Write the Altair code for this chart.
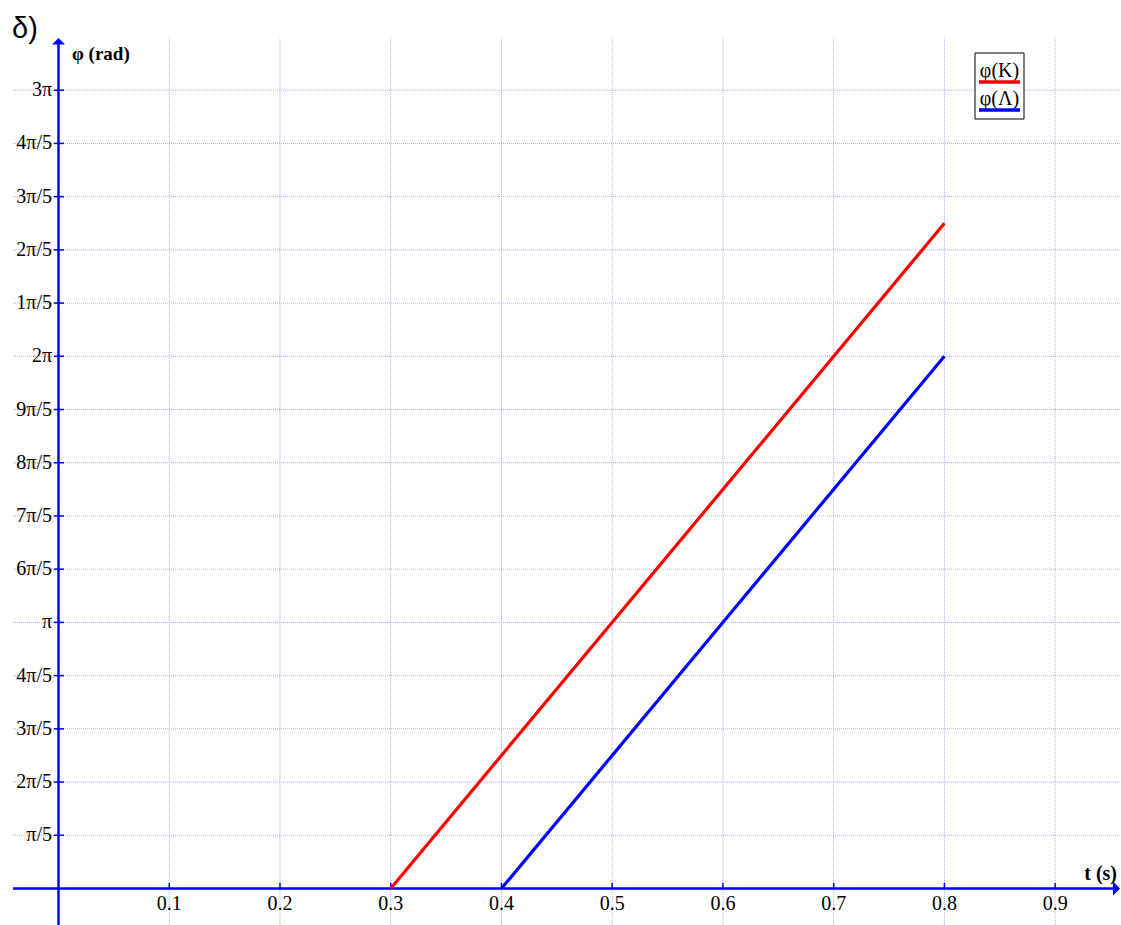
import altair as alt
import pandas as pd
import numpy as np

PI = np.pi

# ---- data ----
t_ticks = [0.1, 0.2, 0.3, 0.4, 0.5, 0.6, 0.7, 0.8, 0.9]
t_labels = ["0.1", "0.2", "0.3", "0.4", "0.5", "0.6", "0.7", "0.8", "0.9"]
phi_ticks_k = [1, 2, 3, 4, 5, 6, 7, 8, 9, 10, 11, 12, 13, 14, 15]  # multiples of π/5
phi_labels = ["π/5", "2π/5", "3π/5", "4π/5", "π", "6π/5", "7π/5", "8π/5", "9π/5",
              "2π", "1π/5", "2π/5", "3π/5", "4π/5", "3π"]
series_names = ["φ(K)", "φ(Λ)"]
series_colors = ["#ff0000", "#0000ff"]
t_K = [0.3, 0.8]
phi_K = [0.0, 2.5 * PI]
t_L = [0.4, 0.8]
phi_L = [0.0, 2.0 * PI]

# ---- layout (pixels) ----
W, H = 1121, 925
X0, XS = 58.5, 1107.4            # pixel of t=0, pixels per second
Y0, YS = 888.5, 53.22 / (PI / 5)  # pixel of phi=0, pixels per rad


def tx(px):
    return (px - X0) / XS


def ty(py):
    return (Y0 - py) / YS


xs = alt.Scale(domain=[tx(0), tx(W)], nice=False, zero=False)
ys = alt.Scale(domain=[ty(H), ty(0)], nice=False, zero=False)
BLUE = "#0000ff"
GRID = "#a8a8ff"
SERIF = "Liberation Serif"

X = lambda f: alt.X(f, type="quantitative", scale=xs, axis=None)
Y = lambda f: alt.Y(f, type="quantitative", scale=ys, axis=None)

# grid
vgrid = alt.Chart(pd.DataFrame({"t": t_ticks, "y1": ty(H), "y2": ty(38)})).mark_rule(
    color=GRID, strokeDash=[1, 1], strokeWidth=1
).encode(x=X("t"), y=Y("y1"), y2="y2")

hgrid = alt.Chart(pd.DataFrame({"phi": [k * PI / 5 for k in phi_ticks_k],
                                "x1": tx(13), "x2": tx(W)})).mark_rule(
    color=GRID, strokeDash=[1, 1], strokeWidth=1
).encode(y=Y("phi"), x=X("x1"), x2="x2")

# axes lines
xaxis = alt.Chart(pd.DataFrame({"phi": [0.0], "x1": [tx(13)], "x2": [tx(1114)]})).mark_rule(
    color=BLUE, strokeWidth=2.5
).encode(y=Y("phi"), x=X("x1"), x2="x2")
yaxis = alt.Chart(pd.DataFrame({"t": [0.0], "y1": [ty(H)], "y2": [ty(43)]})).mark_rule(
    color=BLUE, strokeWidth=2.5
).encode(x=X("t"), y=Y("y1"), y2="y2")

arrow_up = alt.Chart(pd.DataFrame({"t": [0.0], "phi": [ty(38)]})).mark_point(
    shape="M-1,1 L0,0 L1,1 Z", size=169, filled=True, color=BLUE, opacity=1
).encode(x=X("t"), y=Y("phi"))
arrow_right = alt.Chart(pd.DataFrame({"t": [tx(1120)], "phi": [0.0]})).mark_point(
    shape="M-1,-1 L0,0 L-1,1 Z", size=196, filled=True, color=BLUE, opacity=1
).encode(x=X("t"), y=Y("phi"))

# ticks
yticks = alt.Chart(pd.DataFrame({"phi": [k * PI / 5 for k in phi_ticks_k],
                                 "x1": tx(54), "x2": tx(64)})).mark_rule(
    color=BLUE, strokeWidth=1.5
).encode(y=Y("phi"), x=X("x1"), x2="x2")
xticks = alt.Chart(pd.DataFrame({"t": t_ticks, "y1": 0.0, "y2": ty(883)})).mark_rule(
    color=BLUE, strokeWidth=1.5
).encode(x=X("t"), y=Y("y1"), y2="y2")

# tick labels
ylabels = alt.Chart(pd.DataFrame({"phi": [k * PI / 5 for k in phi_ticks_k],
                                  "lab": phi_labels, "x": tx(52)})).mark_text(
    align="right", baseline="middle", font=SERIF, fontSize=20, color="black"
).encode(y=Y("phi"), x=X("x"), text="lab:N")
xlabels = alt.Chart(pd.DataFrame({"t": t_ticks, "lab": t_labels, "y": ty(894)})).mark_text(
    align="center", baseline="top", font=SERIF, fontSize=20, color="black"
).encode(x=X("t"), y=Y("y"), text="lab:N")

# axis titles
title_phi = alt.Chart(pd.DataFrame({"x": [tx(72)], "y": [ty(54)], "lab": ["φ (rad)"]})).mark_text(
    align="left", baseline="middle", font=SERIF, fontSize=19, fontWeight="bold", color="black"
).encode(x=X("x"), y=Y("y"), text="lab:N")
title_t = alt.Chart(pd.DataFrame({"x": [tx(1117)], "y": [ty(874)], "lab": ["t (s)"]})).mark_text(
    align="right", baseline="middle", font=SERIF, fontSize=20, fontWeight="bold", color="black"
).encode(x=X("x"), y=Y("y"), text="lab:N")
delta = alt.Chart(pd.DataFrame({"x": [tx(12)], "y": [ty(29)], "lab": ["δ)"]})).mark_text(
    align="left", baseline="middle", font="Liberation Sans", fontSize=29, color="black"
).encode(x=X("x"), y=Y("y"), text="lab:N")

# series lines
lines_df = pd.DataFrame({
    "t": t_K + t_L,
    "phi": phi_K + phi_L,
    "series": [series_names[0]] * len(t_K) + [series_names[1]] * len(t_L),
})
lines = alt.Chart(lines_df).mark_line(strokeWidth=3.2).encode(
    x=X("t"), y=Y("phi"),
    color=alt.Color("series:N", scale=alt.Scale(domain=series_names, range=series_colors), legend=None),
    detail="series:N",
)

# legend box
box = alt.Chart(pd.DataFrame({"x1": [tx(975)], "x2": [tx(1024)], "y1": [ty(53)], "y2": [ty(119)]})).mark_rect(
    fill="white", stroke="black", strokeWidth=1
).encode(x=X("x1"), x2="x2", y=Y("y1"), y2="y2")
leg_text = alt.Chart(pd.DataFrame({"x": [tx(999.5)] * 2, "y": [ty(71), ty(99)],
                                   "lab": series_names})).mark_text(
    align="center", baseline="middle", font=SERIF, fontSize=20, color="black"
).encode(x=X("x"), y=Y("y"), text="lab:N")
leg_lines = alt.Chart(pd.DataFrame({"x1": [tx(979)] * 2, "x2": [tx(1020)] * 2,
                                    "y": [ty(82), ty(110)], "series": series_names})).mark_rule(
    strokeWidth=3.5
).encode(x=X("x1"), x2="x2", y=Y("y"),
         color=alt.Color("series:N", scale=alt.Scale(domain=series_names, range=series_colors), legend=None))

chart = alt.layer(
    vgrid, hgrid, xaxis, yaxis, arrow_up, arrow_right, yticks, xticks,
    ylabels, xlabels, title_phi, title_t, delta, lines, box, leg_text, leg_lines
).properties(
    width=W, height=H, padding=0, autosize=alt.AutoSizeParams(type="none"),
    background="white"
).configure_view(stroke=None)

chart.save("out.html", embed_options={"renderer": "svg", "actions": False})
